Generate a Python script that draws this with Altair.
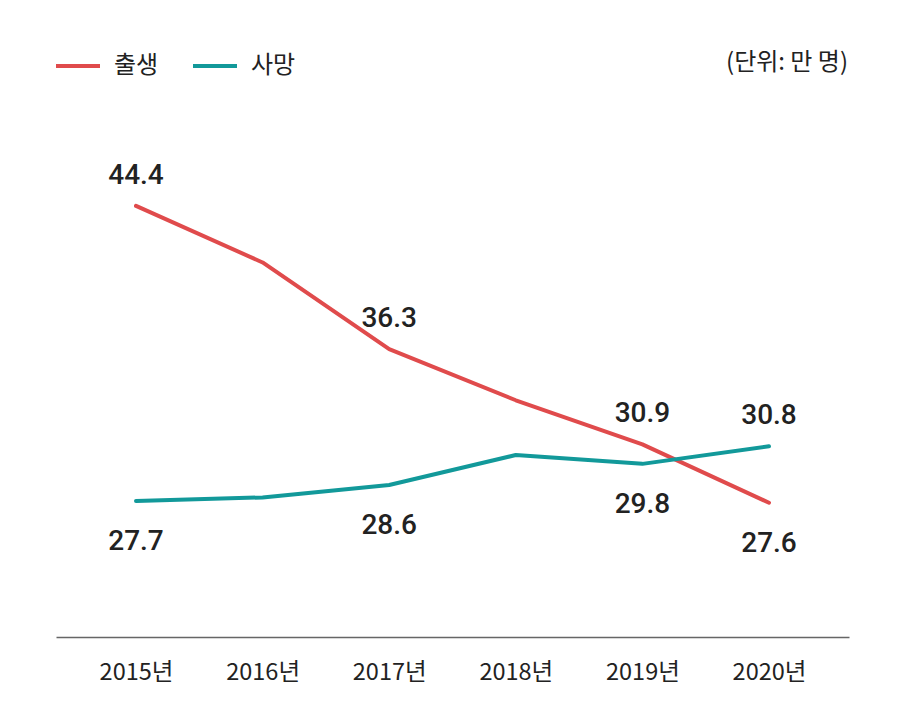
import altair as alt
import pandas as pd

years = ["2015년", "2016년", "2017년", "2018년", "2019년", "2020년"]
births = [44.4, 41.2, 36.3, 33.4, 30.9, 27.6]
deaths = [27.7, 27.9, 28.6, 30.3, 29.8, 30.8]
birth_label_pos = ["above", "", "above", "", "above", "below"]
death_label_pos = ["below", "", "below", "", "below", "above"]
series_names = ["출생", "사망"]
series_colors = ["#e04b4c", "#12999a"]
unit_text = "(단위: 만 명)"

rows = []
for y, b, bp in zip(years, births, birth_label_pos):
    rows.append({"year": y, "series": series_names[0], "value": b, "pos": bp})
for y, d, dp in zip(years, deaths, death_label_pos):
    rows.append({"year": y, "series": series_names[1], "value": d, "pos": dp})
df = pd.DataFrame(rows)

KFONT = "Noto Sans CJK KR"
NFONT = "Roboto"

x = alt.X("year:O", scale=alt.Scale(type="point", domain=years, padding=0.632),
          axis=alt.Axis(title=None, domainColor="#666666", domainWidth=1.5, ticks=False,
                        tickSize=0, labelAngle=0, labelFont=KFONT, labelFontSize=23.5,
                        labelColor="#222222", labelPadding=23, grid=False))
y = alt.Y("value:Q", scale=alt.Scale(domain=[20, 50], nice=False, zero=False), axis=None)
color = alt.Color("series:N", scale=alt.Scale(domain=series_names, range=series_colors),
                  legend=alt.Legend(title=None, orient="none", legendX=-2, legendY=-65,
                                    direction="horizontal", symbolType="stroke",
                                    symbolSize=1936, symbolStrokeWidth=4,
                                    labelFont=KFONT, labelFontSize=24, labelColor="#222222",
                                    labelOffset=12, columnPadding=26, symbolOffset=0))

base = alt.Chart(df)
lines = base.mark_line(strokeWidth=4, strokeCap="round", strokeJoin="round").encode(
    x=x, y=y, color=color, detail="series:N")

above = base.transform_filter(alt.datum.pos == "above").mark_text(
    font=NFONT, fontSize=28, fontWeight=500, color="#222222", dy=-30, baseline="middle"
).encode(x=x, y=y, text=alt.Text("value:Q", format=".1f"))
below = base.transform_filter(alt.datum.pos == "below").mark_text(
    font=NFONT, fontSize=28, fontWeight=500, color="#222222", dy=41, baseline="middle"
).encode(x=x, y=y, text=alt.Text("value:Q", format=".1f"))

unit = alt.Chart(pd.DataFrame({"t": [unit_text]})).mark_text(
    font=KFONT, fontSize=24, color="#222222", align="right", baseline="middle"
).encode(text="t:N", x=alt.value(792), y=alt.value(-44))

chart = alt.layer(lines, above, below, unit).properties(
    width=793, height=530,
    autosize=alt.AutoSizeParams(type="none"),
    padding={"left": 56, "top": 107, "right": 55, "bottom": 87},
    background="white",
).configure_view(stroke=None)

chart.save("out.html", embed_options={"renderer": "svg", "actions": False})
